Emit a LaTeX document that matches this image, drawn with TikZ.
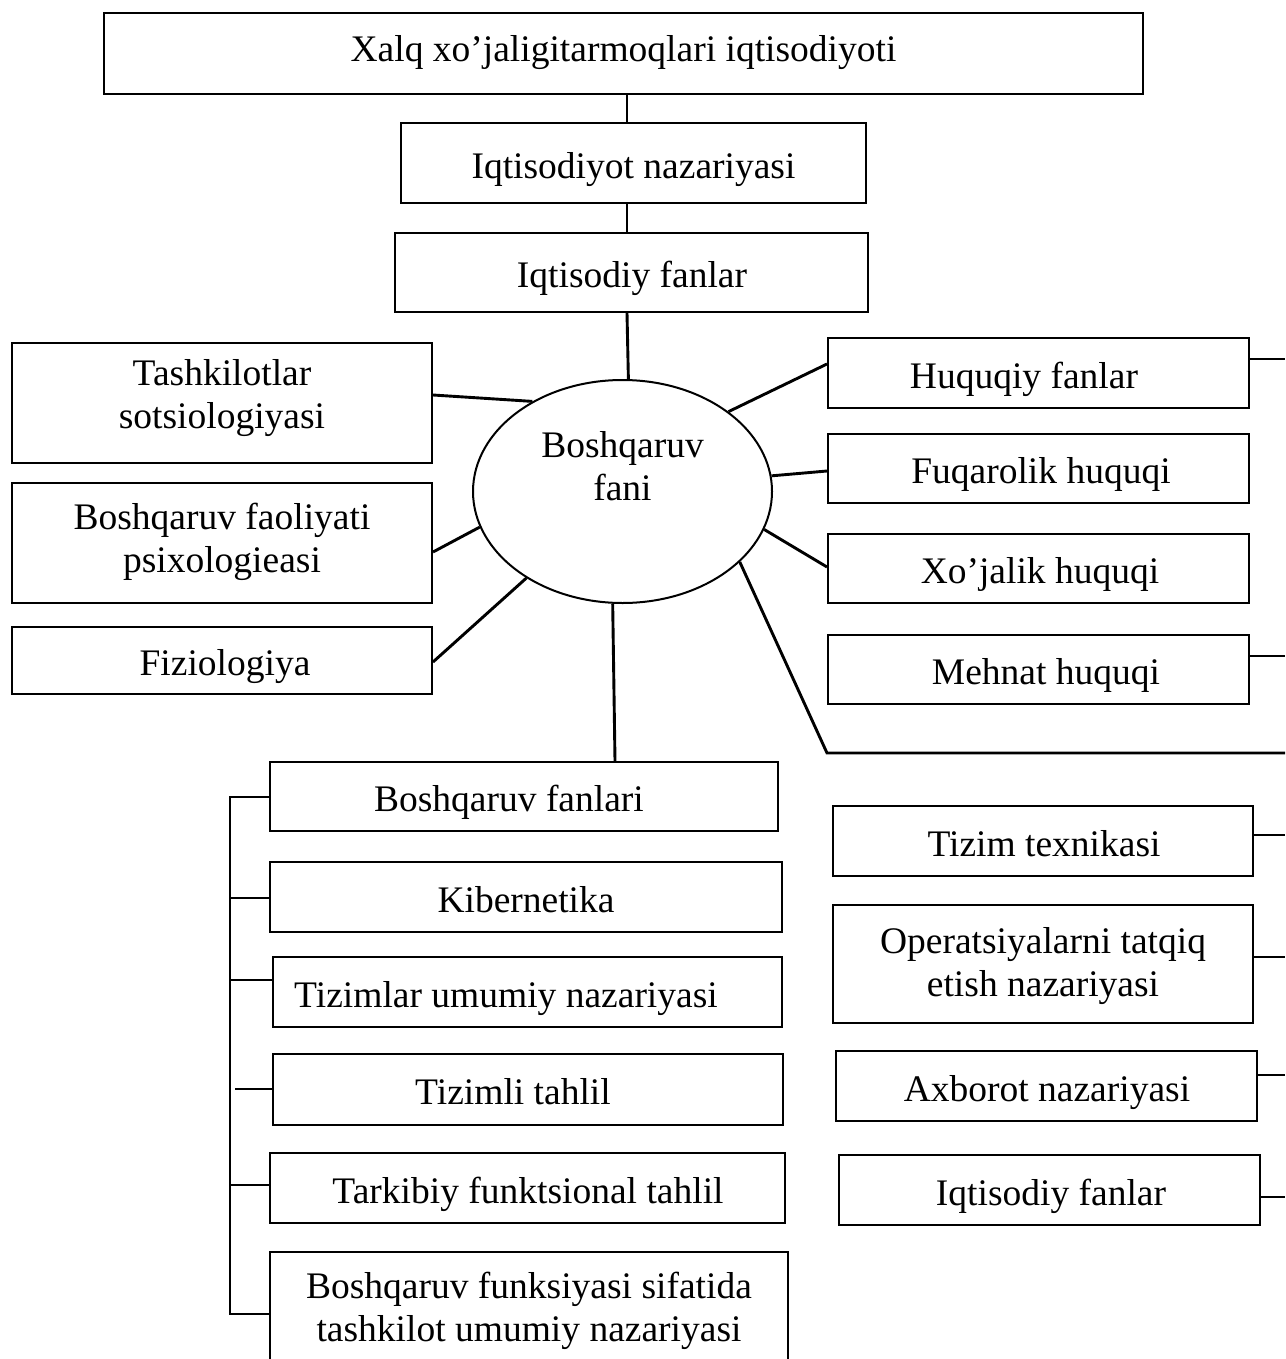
\documentclass[tikz,border=0pt]{standalone}
\usepackage{fontspec}
\setmainfont{Liberation Serif}
\usetikzlibrary{fit,shapes.geometric}
% two centred lines, baseline at the first line
\newcommand\twoline[2]{\begin{tabular}[t]{@{}c@{}}#1\\#2\end{tabular}}

\begin{document}
\begin{tikzpicture}[x=0.5pt,y=-0.5pt,
  box/.style={draw, line width=1pt, inner sep=0pt, rectangle},
  lbl/.style={anchor=base, inner sep=0pt, font=\fontsize{18.75}{21.5}\selectfont},
  conn/.style={draw, line width=1.45pt}]

\fill[white] (0,0) rectangle (1285,1359);
\useasboundingbox (0,0) rectangle (1285,1359);

% ---- top chain ----
\node[box, fit={(104,13) (1143,94)}] (top) {};
\node[lbl] (topt) at (623.5,62) {Xalq xo’jaligitarmoqlari iqtisodiyoti};
\node[box, fit={(401,123) (866,203)}] (inaz) {};
\node[lbl] (inazt) at (633.5,178) {Iqtisodiyot nazariyasi};
\node[box, fit={(395,233) (868,312)}] (ifan) {};
\node[lbl] (ifant) at (632,287) {Iqtisodiy fanlar};

% ---- centre ----
\node[draw, ellipse, line width=1pt, minimum width=149.5pt, minimum height=111.5pt, inner sep=0pt] (bf) at (622.5,491.5) {};
\node[lbl] (bft) at (622.5,457) {\twoline{Boshqaruv}{fani}};

% ---- left group ----
\node[box, fit={(12,343) (432,463)}] (ts) {};
\node[lbl] (tst) at (222,385) {\twoline{Tashkilotlar}{sotsiologiyasi}};
\node[box, fit={(12,483) (432,603)}] (bp) {};
\node[lbl] (bpt) at (222,529) {\twoline{Boshqaruv faoliyati}{psixologieasi}};
\node[box, fit={(12,627) (432,694)}] (fz) {};
\node[lbl] (fzt) at (225,675) {Fiziologiya};

% ---- right group (law) ----
\node[box, fit={(828,338) (1249,408)}] (hq) {};
\node[lbl] (hqt) at (1024,388) {Huquqiy fanlar};
\node[box, fit={(828,434) (1249,503)}] (fq) {};
\node[lbl] (fqt) at (1041,483) {Fuqarolik huquqi};
\node[box, fit={(828,534) (1249,603)}] (xh) {};
\node[lbl] (xht) at (1040,583) {Xo’jalik huquqi};
\node[box, fit={(828,635) (1249,704)}] (mh) {};
\node[lbl] (mht) at (1046,684) {Mehnat huquqi};

% ---- right group (systems) ----
\node[box, fit={(833,806) (1253,876)}] (tt) {};
\node[lbl] (ttt) at (1044,856) {Tizim texnikasi};
\node[box, fit={(833,905) (1253,1023)}] (ot) {};
\node[lbl] (ott) at (1043,953) {\twoline{Operatsiyalarni tatqiq}{etish nazariyasi}};
\node[box, fit={(836,1051) (1257,1121)}] (ax) {};
\node[lbl] (axt) at (1047,1101) {Axborot nazariyasi};
\node[box, fit={(839,1155) (1260,1225)}] (if2) {};
\node[lbl] (if2t) at (1051,1205) {Iqtisodiy fanlar};

% ---- bottom-left group ----
\node[box, fit={(270,762) (778,831)}] (b1) {};
\node[lbl] (b1t) at (509,811) {Boshqaruv fanlari};
\node[box, fit={(270,862) (782,932)}] (b2) {};
\node[lbl] (b2t) at (526,912) {Kibernetika};
\node[box, fit={(273,957) (782,1027)}] (b3) {};
\node[lbl] (b3t) at (506,1007) {Tizimlar umumiy nazariyasi};
\node[box, fit={(273,1054) (783,1125)}] (b4) {};
\node[lbl] (b4t) at (513,1104) {Tizimli tahlil};
\node[box, fit={(270,1153) (785,1223)}] (b5) {};
\node[lbl] (b5t) at (528,1203) {Tarkibiy funktsional tahlil};
\node[box, fit={(270,1252) (788,1380)}] (b6) {};
\node[lbl] (b6t) at (529,1298) {\twoline{Boshqaruv funksiyasi sifatida}{tashkilot umumiy nazariyasi}};

% ---- free ends ----
\coordinate (k1) at (827,753);
\coordinate (k2) at (1285,753);
\coordinate (r1) at (1285,359);
\coordinate (r2) at (1285,656);
\coordinate (r3) at (1285,835);
\coordinate (r4) at (1285,957);
\coordinate (r5) at (1285,1075);
\coordinate (r6) at (1285,1197);
\coordinate (brT) at (230,797);
\coordinate (brB) at (230,1314);

% ---- connectors ----
\draw[conn] (top.south -| 627,0) -- (inaz.north -| 627,0);
\draw[conn] (inaz.south -| 627,0) -- (ifan.north -| 627,0);
\draw[conn] (ifan.south -| 627,0) -- (bf.87.7);

\draw[conn] (ts.east |- 0,395) -- (bf.135.2);
\draw[conn] (bp.east |- 0,552) -- (bf.194.6);
\draw[conn] (fz.east |- 0,662) -- (bf.222.5);

\draw[conn] (bf.37.4) -- (hq.west |- 0,364);
\draw[conn] (bf.6.3) -- (fq.west |- 0,471);
\draw[conn] (bf.345) -- (xh.west |- 0,567);
\draw[conn] (bf.329.1) -- (k1) -- (k2);
\draw[conn] (bf.265.1) -- (b1.north -| 615,0);

\draw[conn] (hq.east |- r1) -- (r1);
\draw[conn] (mh.east |- r2) -- (r2);
\draw[conn] (tt.east |- r3) -- (r3);
\draw[conn] (ot.east |- r4) -- (r4);
\draw[conn] (ax.east |- r5) -- (r5);
\draw[conn] (if2.east |- r6) -- (r6);

\draw[conn] (b1.west |- brT) -- (brT) -- (brB) -- (b6.west |- brB);
\draw[conn] (b2.west |- 0,898) -- (brT |- 0,898);
\draw[conn] (b3.west |- 0,980) -- (brT |- 0,980);
\draw[conn] (b4.west |- 0,1089) -- (235,1089);
\draw[conn] (b5.west |- 0,1185) -- (brT |- 0,1185);

\end{tikzpicture}
\end{document}
